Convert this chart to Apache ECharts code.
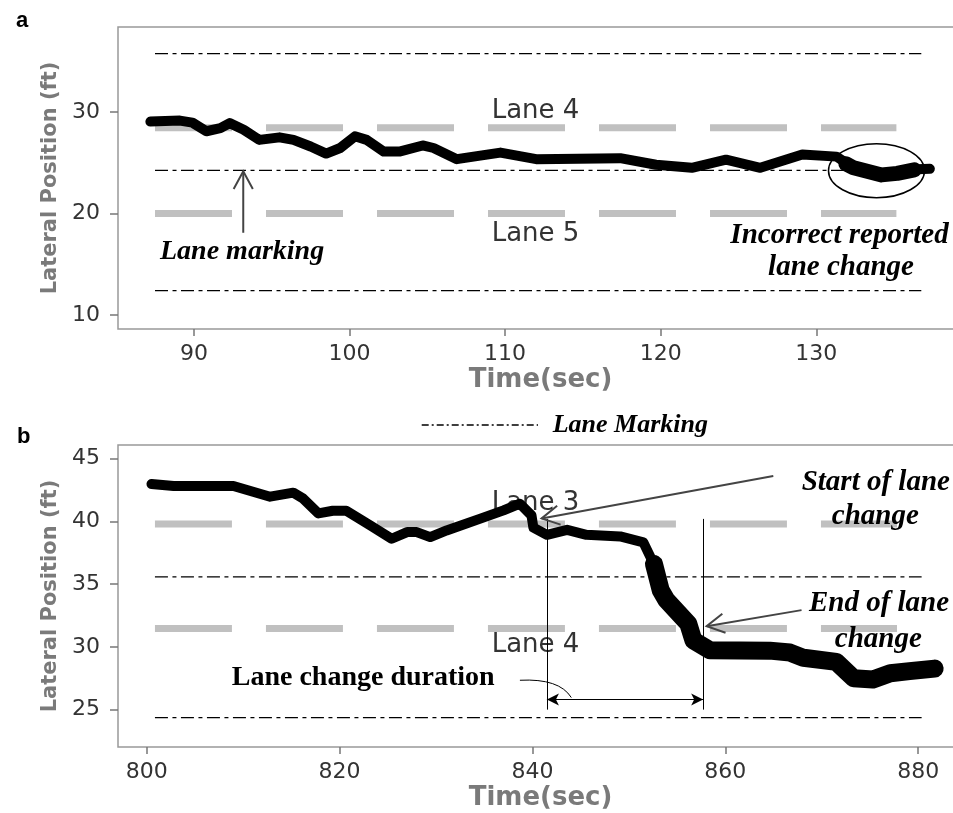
<!DOCTYPE html>
<html>
<head>
<meta charset="utf-8">
<script src="https://cdn.jsdelivr.net/npm/echarts@6/dist/echarts.min.js"></script>
<style>
  html, body { margin: 0; padding: 0; background: #fff; }
  #chart { width: 953px; height: 813px; }
</style>
</head>
<body>
<div id="chart"></div>
<script>
// ---- panel a: incorrect reported lane change ----
const timeA = [87.2, 89.1, 89.9, 90.8, 91.7, 92.3, 93.2, 94.2, 95.5, 96.4, 97.5, 98.5, 99.4, 100.35,
  101.1, 102.2, 103.2, 104.7, 105.4, 106.9, 108.4, 109.7, 112.0, 117.4, 119.7, 122.0, 124.2, 126.4,
  129.1, 131.3, 132.4, 134.2, 135.2, 136.5, 137.3];
const posA = [29.05, 29.15, 28.95, 28.1, 28.4, 28.9, 28.25, 27.25, 27.5, 27.25, 26.6, 25.9, 26.45, 27.6,
  27.25, 26.1, 26.1, 26.7, 26.45, 25.35, 25.7, 26.0, 25.35, 25.45, 24.8, 24.5, 25.3, 24.5,
  25.8, 25.6, 24.5, 23.8, 23.95, 24.35, 24.4];
// noisy stretch inside the ellipse, drawn heavier
const timeANoisy = [131.9, 132.4, 134.2, 135.2, 136.3];
const posANoisy = [24.9, 24.5, 23.8, 23.95, 24.3];
const laneMarkA = [35.75, 24.25, 12.4];
const laneMarkSpanA = [87.5, 136.75];
const laneCenterA = [28.45, 20];
const laneCenterSpanA = [87.5, 135.15];
const ticksXA = [90, 100, 110, 120, 130];
const ticksYA = [10, 20, 30];

// ---- panel b: real lane change ----
const timeB = [800.5, 802.8, 809.0, 812.8, 815.2, 816.2, 817.8, 819.3, 820.7, 823.2, 825.4, 827.0,
  828.0, 829.4, 831.1, 834.6, 837.0, 838.7, 839.9, 840.1, 841.5, 843.6, 845.6, 849.1, 851.5, 852.4];
const posB = [42.98, 42.82, 42.82, 41.97, 42.29, 41.84, 40.64, 40.85, 40.85, 39.68, 38.62, 39.15,
  39.15, 38.75, 39.28, 40.22, 40.88, 41.41, 40.48, 39.5, 38.93, 39.33, 38.93, 38.8, 38.33, 36.9];
const timeBNoisy = [852.6, 853.3, 853.9, 856.15, 856.7, 858.4, 864.6, 866.7, 868.1, 871.5,
  873.3, 875.3, 877.1, 879.1, 881.7];
const posBNoisy = [36.6, 34.52, 33.72, 31.86, 30.5, 29.73, 29.7, 29.55, 29.13, 28.8,
  27.5, 27.4, 27.9, 28.07, 28.27];
const laneMarkB = [35.58, 24.36];
const laneMarkSpanB = [800.86, 880.35];
const laneCenterB = [39.8, 31.47];
const laneCenterSpanB = [800.86, 877.8];
const laneChangeStart = 841.5;
const laneChangeEnd = 857.7;
const ticksXB = [800, 820, 840, 860, 880];
const ticksYB = [25, 30, 35, 40, 45];

const sans = 'DejaVu Sans';
const serif = 'Liberation Serif';

function pairs(xs, ys) { return xs.map((x, i) => [x, ys[i]]); }
function hLine(v, span) { return [[span[0], v], [span[1], v]]; }

function laneSeries(grid, centers, cSpan, marks, mSpan) {
  const out = [];
  centers.forEach(v => out.push({
    type: 'line', xAxisIndex: grid, yAxisIndex: grid, data: hLine(v, cSpan),
    symbol: 'none', silent: true, z: 2,
    lineStyle: { color: '#c0c0c0', width: 7, type: [77, 34], cap: 'butt' }
  }));
  marks.forEach(v => out.push({
    type: 'line', name: 'Lane Marking', xAxisIndex: grid, yAxisIndex: grid, data: hLine(v, mSpan),
    symbol: 'none', silent: true, z: 2,
    lineStyle: { color: '#000', width: 1.3, type: [13, 4.5, 4, 4.5], cap: 'butt' }
  }));
  return out;
}

function traceSeries(grid, xs, ys, w) {
  return {
    type: 'line', xAxisIndex: grid, yAxisIndex: grid, data: pairs(xs, ys),
    symbol: 'none', silent: true, z: 3,
    lineStyle: { color: '#000', width: w, join: 'round', cap: 'round' }
  };
}

function xAxis(grid, min, max, ticks) {
  return {
    type: 'value', gridIndex: grid, min: min, max: max,
    name: 'Time(sec)', nameLocation: 'middle', nameGap: 38,
    nameTextStyle: { fontFamily: sans, fontWeight: 'bold', fontSize: 26, color: '#7a7a7a' },
    axisLine: { show: false },
    axisTick: { show: true, length: 7, customValues: ticks, lineStyle: { color: '#777', width: 1.5 } },
    axisLabel: { customValues: ticks, margin: 14, fontFamily: sans, fontSize: 22, color: '#333' },
    splitLine: { show: false }
  };
}

function yAxis(grid, min, max, ticks) {
  return {
    type: 'value', gridIndex: grid, min: min, max: max,
    name: 'Lateral Position (ft)', nameLocation: 'middle', nameRotate: 90, nameGap: 51,
    nameTextStyle: { fontFamily: sans, fontWeight: 'bold', fontSize: 21, color: '#7a7a7a' },
    axisLine: { show: false },
    axisTick: { show: true, length: 8, customValues: ticks, lineStyle: { color: '#777', width: 1.5 } },
    axisLabel: { customValues: ticks, margin: 18, fontFamily: sans, fontSize: 22, color: '#333' },
    splitLine: { show: false }
  };
}

const chart = echarts.init(document.getElementById('chart'));

const option = {
  animation: false,
  backgroundColor: '#fff',
  title: [
    { text: 'a', left: 11, top: 5, textStyle: { fontFamily: 'Liberation Sans', fontWeight: 'bold', fontSize: 22, color: '#000' } },
    { text: 'b', left: 12, top: 421, textStyle: { fontFamily: 'Liberation Sans', fontWeight: 'bold', fontSize: 22, color: '#000' } }
  ],
  // the plot box runs past the right edge of the picture
  grid: [
    { left: 118, width: 845, top: 27, height: 302, outerBoundsMode: 'none', show: true, borderColor: '#999', borderWidth: 1.5 },
    { left: 118, width: 845, top: 445, height: 302, outerBoundsMode: 'none', show: true, borderColor: '#999', borderWidth: 1.5 }
  ],
  xAxis: [xAxis(0, 85.12, 139.43, ticksXA), xAxis(1, 797.03, 884.64, ticksXB)],
  yAxis: [yAxis(0, 8.62, 38.37, ticksYA), yAxis(1, 22.02, 46.09, ticksYB)],
  series: [
    ...laneSeries(0, laneCenterA, laneCenterSpanA, laneMarkA, laneMarkSpanA),
    ...laneSeries(1, laneCenterB, laneCenterSpanB, laneMarkB, laneMarkSpanB),
    traceSeries(0, timeA, posA, 10),
    traceSeries(0, timeANoisy, posANoisy, 15),
    traceSeries(1, timeB, posB, 10),
    Object.assign(traceSeries(1, timeBNoisy, posBNoisy, 18), {
      markLine: {
        silent: true, symbol: 'none', label: { show: false },
        lineStyle: { color: '#000', width: 1, type: 'solid' },
        data: [
          [{ coord: [laneChangeStart, 40.2] }, { coord: [laneChangeStart, 25.0] }],
          [{ coord: [laneChangeEnd, 40.2] }, { coord: [laneChangeEnd, 25.0] }],
          [{ coord: [laneChangeStart, 25.8], symbol: 'arrow', symbolSize: [9, 12] },
           { coord: [laneChangeEnd, 25.8], symbol: 'arrow', symbolSize: [9, 12] }]
        ]
      }
    })
  ]
};
chart.setOption(option);

// annotations, anchored on data coordinates
function px(grid, p) { return chart.convertToPixel({ gridIndex: grid }, p); }

function arrow(grid, from, to) {
  const a = px(grid, from), b = px(grid, to);
  const dx = a[0] - b[0], dy = a[1] - b[1], d = Math.hypot(dx, dy);
  const ux = dx / d, uy = dy / d, len = 20, ang = 0.5;
  const rot = s => [b[0] + len * (ux * Math.cos(s) - uy * Math.sin(s)), b[1] + len * (ux * Math.sin(s) + uy * Math.cos(s))];
  const st = { stroke: '#444', lineWidth: 2, fill: null };
  return [
    { type: 'line', z: 20, shape: { x1: a[0], y1: a[1], x2: b[0], y2: b[1] }, style: st },
    { type: 'polyline', z: 20, shape: { points: [rot(ang), b, rot(-ang)] }, style: st }
  ];
}

function label(text, x, y, font, align) {
  return {
    type: 'text', z: font.z || 20, x: x, y: y,
    style: Object.assign({
      text: text, align: align, textAlign: align, verticalAlign: 'middle', textVerticalAlign: 'middle', fill: '#000'
    }, font)
  };
}

const laneFont = { fontFamily: sans, fontSize: 26, fill: '#333', z: 1 };
const noteFont = { fontFamily: serif, fontSize: 29, fontWeight: 'bold', fontStyle: 'italic' };

const ec = px(0, [133.87, 24.22]);
const lead0 = px(1, [838.7, 27.34]), lead1 = px(1, [844.03, 25.96]);

const graphics = [
  label('Lane 4', 491.7, 111, laneFont, 'left'),
  label('Lane 5', 491.7, 234, laneFont, 'left'),
  label('Lane 3', 491.7, 503, laneFont, 'left'),
  label('Lane 4', 491.7, 645, laneFont, 'left'),
  label('Lane marking', 160, 252, Object.assign({}, noteFont, { fontSize: 28 }), 'left'),
  label('Incorrect reported', 839.5, 236, noteFont, 'center'),
  label('lane change', 841, 268, noteFont, 'center'),
  label('Start of lane', 875.8, 483, noteFont, 'center'),
  label('change', 875.3, 517, noteFont, 'center'),
  label('End of lane', 879, 604, noteFont, 'center'),
  label('change', 878.3, 640, noteFont, 'center'),
  label('Lane change duration', 231.7, 678, { fontFamily: serif, fontSize: 28, fontWeight: 'bold' }, 'left'),
  label('Lane Marking', 552.7, 425, Object.assign({}, noteFont, { fontSize: 26 }), 'left'),
  { type: 'line', z: 20, shape: { x1: 421.7, y1: 425, x2: 538, y2: 425 },
    style: { stroke: '#000', lineWidth: 1.3, lineDash: [7, 3, 2, 3] } },
  { type: 'ellipse', z: 20, shape: { cx: ec[0], cy: ec[1], rx: 48, ry: 27 },
    style: { stroke: '#000', lineWidth: 1.5, fill: null } },
  { type: 'bezierCurve', z: 20,
    shape: { x1: lead0[0], y1: lead0[1], x2: lead1[0], y2: lead1[1], cpx1: lead1[0] - 12, cpy1: lead0[1] - 2 },
    style: { stroke: '#000', lineWidth: 1, fill: null } },
  ...arrow(0, [93.17, 18.1], [93.17, 24.15]),
  ...arrow(1, [864.97, 43.62], [840.95, 40.24]),
  ...arrow(1, [867.9, 32.93], [858.06, 31.65])
];

chart.setOption({ graphic: graphics });
</script>
</body>
</html>
